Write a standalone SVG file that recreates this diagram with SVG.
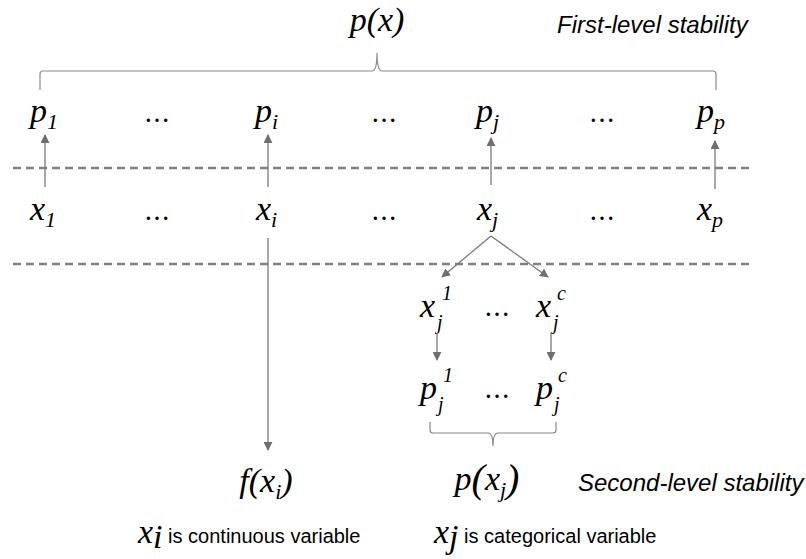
<svg xmlns="http://www.w3.org/2000/svg" width="806" height="559" viewBox="0 0 806 559">
<defs>
<marker id="ah" viewBox="0 0 10 10" refX="9" refY="5" markerWidth="9" markerHeight="9" markerUnits="userSpaceOnUse" orient="auto">
<path d="M0,0 L10,5 L0,10 Z" fill="#6f6f6f"/>
</marker>
<style>
.m{font-family:"Liberation Serif","Times New Roman",serif;font-style:italic;font-size:34px;fill:#000}
.s{font-size:22px}
.u{font-size:20px}
.d{font-family:"DejaVu Serif",serif;font-size:26px;fill:#000}
.lab{font-family:"Liberation Sans",Arial,sans-serif;font-style:italic;font-size:24px;fill:#000}
.txt{font-family:"Liberation Sans",Arial,sans-serif;font-size:20px;fill:#000}
.arr{stroke:#7a7a7a;stroke-width:1.3;fill:none;marker-end:url(#ah)}
.dash{stroke:#808080;stroke-width:2.5;stroke-dasharray:8 5;fill:none}
.brace{stroke:#8a8a8a;stroke-width:1.2;fill:none}
</style>
</defs>
<rect width="806" height="559" fill="#fff"/>

<g id="px"><text class="m" x="377" y="31" text-anchor="middle">p(x)</text></g>
<g id="first-level"><text class="lab" x="557" y="33">First-level stability</text></g>
<g id="brace-top"><path class="brace" d="M40,90 L40,74 Q40,71 43,71 L372,71 Q377,71 377,53 Q377,71 382,71 L713,71 Q716,71 716,74 L716,90"/></g>

<g id="p1"><text class="m" x="30" y="122">p<tspan class="s" dy="7">1</tspan></text></g>
<g id="dots-p1"><text class="d" x="144" y="122">…</text></g>
<g id="pi"><text class="m" x="255" y="122">p<tspan class="s" dy="7">i</tspan></text></g>
<g id="dots-p2"><text class="d" x="371" y="122">…</text></g>
<g id="pj"><text class="m" x="476" y="122">p<tspan class="s" dy="7">j</tspan></text></g>
<g id="dots-p3"><text class="d" x="589" y="122">…</text></g>
<g id="pp"><text class="m" x="697" y="122">p<tspan class="s" dy="7">p</tspan></text></g>

<g id="x1"><text class="m" x="30" y="220">x<tspan class="s" dy="7">1</tspan></text></g>
<g id="dots-x1"><text class="d" x="144" y="220">…</text></g>
<g id="xi"><text class="m" x="256" y="220">x<tspan class="s" dy="7">i</tspan></text></g>
<g id="dots-x2"><text class="d" x="371" y="220">…</text></g>
<g id="xj"><text class="m" x="477" y="220">x<tspan class="s" dy="7">j</tspan></text></g>
<g id="dots-x3"><text class="d" x="589" y="220">…</text></g>
<g id="xp"><text class="m" x="697" y="220">x<tspan class="s" dy="7">p</tspan></text></g>

<g id="xj1">
<text class="m" x="420" y="317">x</text>
<text class="m u" x="437" y="329">j</text>
<text class="m u" x="442" y="300">1</text>
</g>
<g id="dots-xj"><text class="d" x="484" y="316">…</text></g>
<g id="xjc">
<text class="m" x="536" y="317">x</text>
<text class="m u" x="553" y="329">j</text>
<text class="m u" x="557" y="300">c</text>
</g>

<g id="pj1">
<text class="m" x="420" y="399">p</text>
<text class="m u" x="438" y="411">j</text>
<text class="m u" x="443" y="382">1</text>
</g>
<g id="dots-pj"><text class="d" x="484" y="398">…</text></g>
<g id="pjc">
<text class="m" x="536" y="399">p</text>
<text class="m u" x="554" y="411">j</text>
<text class="m u" x="558" y="382">c</text>
</g>

<g id="brace-bottom"><path class="brace" d="M430,422 L430,430 Q430,433 433,433 L488,433 Q493,433 493,446 Q493,433 498,433 L553,433 Q556,433 556,430 L556,422"/></g>

<g id="fxi"><text class="m" x="266" y="492" text-anchor="middle">f(x<tspan class="s" dy="7">i</tspan><tspan dy="-7">)</tspan></text></g>
<g id="pxj"><text class="m" x="487" y="490" text-anchor="middle">p<tspan font-size="40px" dy="2">(</tspan><tspan dy="-2">x</tspan><tspan class="s" dy="7">j</tspan><tspan font-size="40px" dy="-5">)</tspan></text></g>
<g id="second-level"><text class="lab" x="578" y="491">Second-level stability</text></g>

<g id="cont"><text class="txt" x="138" y="543"><tspan class="m" font-size="23px">x</tspan><tspan class="m" font-size="15px" dy="5">i</tspan><tspan dy="-5"> is continuous variable</tspan></text></g>
<g id="cat"><text class="txt" x="434" y="543"><tspan class="m" font-size="23px">x</tspan><tspan class="m" font-size="15px" dy="5">j</tspan><tspan dy="-5"> is categorical variable</tspan></text></g>

<g id="connectors">
<line class="dash" x1="13" y1="168" x2="753" y2="168"/>
<line class="dash" x1="13" y1="264" x2="753" y2="264"/>
<line class="arr" x1="45" y1="187" x2="45" y2="135"/>
<line class="arr" x1="268" y1="187" x2="268" y2="135"/>
<line class="arr" x1="491" y1="185" x2="491" y2="138"/>
<line class="arr" x1="715" y1="189" x2="715" y2="141"/>
<line class="arr" x1="268" y1="238" x2="268" y2="450"/>
<line class="arr" x1="491" y1="236" x2="442" y2="277"/>
<line class="arr" x1="491" y1="236" x2="548" y2="277"/>
<line class="arr" x1="437" y1="333" x2="437" y2="360"/>
<line class="arr" x1="551" y1="333" x2="551" y2="360"/>
</g>
</svg>
